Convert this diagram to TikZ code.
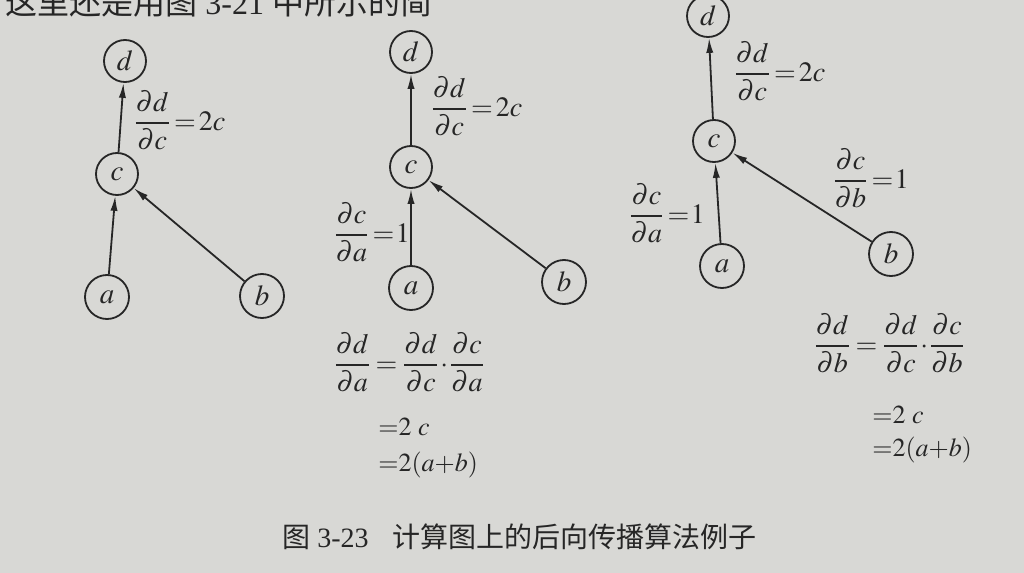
\documentclass[tikz,border=0pt]{standalone}
\usepackage{amsmath}
\usepackage{mathptmx}
\usepackage{fontspec}
\setmainfont{Liberation Serif}
\newfontfamily\cjk{Noto Sans CJK SC}
\usetikzlibrary{arrows.meta}
\definecolor{paper}{RGB}{216,216,213}
\definecolor{ink}{RGB}{38,38,38}
\begin{document}
\begin{tikzpicture}[x=0.5pt,y=-0.5pt,
  every node/.style={text=ink},
  var/.style={draw=ink, circle, line width=0.9pt, minimum size=21pt, inner sep=0pt, font=\fontsize{14.5}{16}\selectfont},
  edge/.style={draw=ink, line width=0.9pt, -{Latex[length=7.5pt,width=3.6pt]}},
  lbl/.style={anchor=west, inner sep=0pt, font=\fontsize{14}{16}\selectfont},
  res/.style={anchor=west, inner sep=0pt, font=\fontsize{13}{15}\selectfont},
  txt/.style={anchor=west, inner sep=0pt, font=\fontsize{16}{19}\selectfont},
  captxt/.style={anchor=west, inner sep=0pt, font=\fontsize{14}{17}\selectfont}]
\fill[paper] (0,0) rectangle (1024,573);
\useasboundingbox (0,0) rectangle (1024,573);
\clip (0,0) rectangle (1024,573);
% partial line of text at the top (cut off by the page edge, as in the photo)
\node[txt] (top) at (5,2) {{\cjk 这里还是用图} 3-21 {\cjk 中所示的简}};
% graph 1
\node[var] (d1) at (125,61) {$d$};
\node[var] (c1) at (117,174) {$c$};
\node[var, minimum size=22pt] (a1) at (107,297) {$a$};
\node[var, minimum size=22pt] (b1) at (262,296) {$b$};
\draw[edge] (a1) -- (c1);
\draw[edge] (b1) -- (c1);
\draw[edge] (c1) -- (d1);
\node[lbl] (l1) at (133,120) {$\dfrac{\partial d}{\partial c} \mkern2mu{=}\mkern2mu 2c$};
% graph 2
\node[var] (d2) at (411,52) {$d$};
\node[var] (c2) at (411,167) {$c$};
\node[var, minimum size=22pt] (a2) at (411,288) {$a$};
\node[var, minimum size=22pt] (b2) at (564,282) {$b$};
\draw[edge] (a2) -- (c2);
\draw[edge] (b2) -- (c2);
\draw[edge] (c2) -- (d2);
\node[lbl] (l2) at (430,106) {$\dfrac{\partial d}{\partial c} \mkern2mu{=}\mkern2mu 2c$};
\node[lbl] (l3) at (333,232) {$\dfrac{\partial c}{\partial a}\mkern2mu{=}\mkern1mu 1$};
% graph 3
\node[var] (d3) at (708,16) {$d$};
\node[var] (c3) at (714,141) {$c$};
\node[var, minimum size=22pt] (a3) at (722,266) {$a$};
\node[var, minimum size=22pt] (b3) at (891,254) {$b$};
\draw[edge] (a3) -- (c3);
\draw[edge] (b3) -- (c3);
\draw[edge] (c3) -- (d3);
\node[lbl] (l4) at (733,71) {$\dfrac{\partial d}{\partial c} \mkern2mu{=}\mkern2mu 2c$};
\node[lbl] (l5) at (832,178) {$\dfrac{\partial c}{\partial b}\mkern2mu{=}\mkern1mu 1$};
\node[lbl] (l6) at (628,213) {$\dfrac{\partial c}{\partial a}\mkern2mu{=}\mkern1mu 1$};
% equations, graph 2
\node[lbl] (e1) at (333,362) {$\dfrac{\partial d}{\partial a} \mkern3mu{=}\mkern3mu \dfrac{\partial d}{\partial c}\!\cdot\! \dfrac{\partial c}{\partial a}$};
\node[res] (e2) at (378,427) {${=}2\ c$};
\node[res] (e3) at (378,465) {${=}2(a{+}b)$};
% equations, graph 3
\node[lbl] (e4) at (813,343) {$\dfrac{\partial d}{\partial b} \mkern3mu{=}\mkern3mu \dfrac{\partial d}{\partial c}\!\cdot\! \dfrac{\partial c}{\partial b}$};
\node[res] (e5) at (872,415) {${=}2\ c$};
\node[res] (e6) at (872,450) {${=}2(a{+}b)$};
% caption
\node[captxt] (cap1) at (282,537) {{\cjk 图} 3-23};
\node[captxt] (cap2) at (392,537) {\cjk 计算图上的后向传播算法例子};
\end{tikzpicture}
\end{document}
